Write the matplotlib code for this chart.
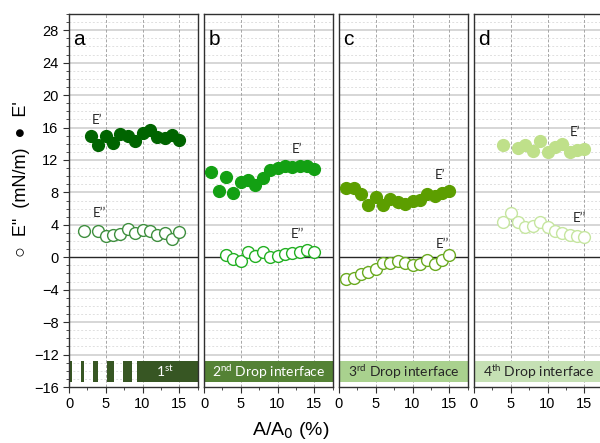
import numpy as np
import matplotlib.pyplot as plt
from matplotlib.ticker import MultipleLocator

# данные: (x, E') и (x, E'') для четырёх капель
xa_s = [3, 4, 5, 6, 7, 8, 9, 10, 11, 12, 13, 14, 15]
ea_s = [15.0, 13.9, 15.0, 14.1, 15.2, 14.9, 14.3, 15.3, 15.7, 14.8, 14.7, 15.1, 14.5]
xa_l = [2, 4, 5, 6, 7, 8, 9, 10, 11, 12, 13, 14, 15]
ea_l = [3.2, 3.3, 2.6, 2.7, 2.9, 3.5, 3.0, 3.4, 3.3, 2.8, 3.0, 2.3, 3.1]

xb_s = [1, 2, 3, 4, 5, 6, 7, 8, 9, 10, 11, 12, 13, 14, 15]
eb_s = [10.5, 8.2, 9.9, 7.9, 9.3, 9.5, 8.9, 9.8, 10.7, 11.0, 11.3, 11.1, 11.3, 11.2, 10.9]
xb_l = [3, 4, 5, 6, 7, 8, 9, 10, 11, 12, 13, 14, 15]
eb_l = [0.3, -0.2, -0.4, 0.7, 0.1, 0.7, 0.0, 0.2, 0.4, 0.5, 0.7, 0.9, 0.7]

xc_s = [1, 2, 3, 4, 5, 6, 7, 8, 9, 10, 11, 12, 13, 14, 15]
ec_s = [8.6, 8.5, 7.8, 6.5, 7.4, 6.5, 7.2, 6.8, 6.6, 7.0, 7.1, 7.8, 7.5, 7.9, 8.2]
xc_l = [1, 2, 3, 4, 5, 6, 7, 8, 9, 10, 11, 12, 13, 14, 15]
ec_l = [-2.7, -2.5, -2.1, -1.8, -1.5, -0.7, -0.7, -0.5, -0.7, -0.9, -0.8, -0.3, -0.8, -0.3, 0.3]

xd_s = [4, 6, 7, 8, 9, 10, 11, 12, 13, 14, 15]
ed_s = [13.9, 13.5, 13.9, 13.1, 14.3, 13.0, 13.6, 14.0, 13.0, 13.2, 13.4]
xd_l = [4, 5, 6, 7, 8, 9, 10, 11, 12, 13, 14, 15]
ed_l = [4.4, 5.4, 4.4, 3.7, 3.9, 4.3, 3.7, 3.2, 3.0, 2.8, 2.6, 2.5]

letters = ['a', 'b', 'c', 'd']
band_text = [r'1$\mathregular{^{st}}$',
             r'2$\mathregular{^{nd}}$ Drop interface',
             r'3$\mathregular{^{rd}}$ Drop interface',
             r'4$\mathregular{^{th}}$ Drop interface']
band_colors = ['#375623', '#548235', '#a9d18e', '#c5e0b4']
band_text_colors = ['white', 'white', '#262626', '#262626']
solid_colors = ['#006400', '#13a013', '#5c9e00', '#bfe08a']
open_colors = ['#3f8f3f', '#22b022', '#6aaa20', '#c6e6a0']
# полоски "затухания" в первой панели
fade_start = [0.1, 1.6, 3.2, 5.2, 7.4, 9.2]
fade_end = [0.35, 2.1, 4.0, 6.1, 8.5, 17.5]
# позиции подписей E' и E''
lab_s = [(3.8, 16.9), (12.7, 13.4), (13.8, 10.2), (13.7, 15.4)]
lab_l = [(4.2, 5.4), (12.7, 2.9), (14.0, 1.6), (14.4, 4.8)]

series = [(xa_s, ea_s, xa_l, ea_l), (xb_s, eb_s, xb_l, eb_l),
          (xc_s, ec_s, xc_l, ec_l), (xd_s, ed_s, xd_l, ed_l)]

plt.rcParams['font.family'] = ['Liberation Sans', 'DejaVu Sans']

fig = plt.figure(figsize=(6, 4.43), dpi=100)
lefts = [0.115, 0.34, 0.565, 0.79]
width = 0.2145
bottom, height = 0.1264, 0.842

for i in range(4):
    ax = fig.add_axes([lefts[i], bottom, width, height])
    xs, ys, xl, yl = series[i]
    ax.set_xlim(0, 17.5)
    ax.set_ylim(-16, 30)

    # сетка
    for y in np.arange(-15, 30, 1):
        if y % 4 != 0:
            ax.axhline(y, color='#e0e0e0', lw=0.7, ls=(0, (2, 2)), zorder=0)
    for y in np.arange(-12, 30, 4):
        if y != 0:
            ax.axhline(y, color='#cfcfcf', lw=1.2, zorder=0)
    for x in [5, 10, 15]:
        ax.axvline(x, color='#a6a6a6', lw=0.7, ls=(0, (3, 2)), zorder=0)
    ax.axhline(0, color='#262626', lw=1.0, zorder=1)

    # полоса внизу
    if i == 0:
        for s, e in zip(fade_start, fade_end):
            ax.fill_between([s, e], -15.4, -12.8, color=band_colors[i], lw=0, zorder=2)
        ax.text(13.0, -14.1, band_text[i], color=band_text_colors[i],
                ha='center', va='center', fontsize=10, family='Lato', zorder=3)
    else:
        ax.fill_between([0, 17.5], -15.4, -12.8, color=band_colors[i], lw=0, zorder=2)
        ax.text(8.75, -14.1, band_text[i], color=band_text_colors[i],
                ha='center', va='center', fontsize=10, family='Lato', zorder=3)

    ax.plot(xs, ys, 'o', color=solid_colors[i], ms=8.5, mec=solid_colors[i], zorder=4)
    ax.plot(xl, yl, 'o', mfc='white', mec=open_colors[i], mew=1.0, ms=8.5, zorder=4)

    ax.text(lab_s[i][0], lab_s[i][1], 'E\u2019', fontsize=9.5, family='Lato',
            ha='center', va='center', color='#262626')
    ax.text(lab_l[i][0], lab_l[i][1], 'E\u2019\u2019', fontsize=9.5, family='Lato',
            ha='center', va='center', color='#262626')
    ax.text(0.6, 26.8, letters[i], fontsize=15, ha='left', va='center', color='black')

    ax.xaxis.set_major_locator(MultipleLocator(5))
    ax.xaxis.set_minor_locator(MultipleLocator(2.5))
    ax.tick_params(axis='x', which='major', direction='out', length=4, labelsize=10.5,
                   color='#303030')
    ax.tick_params(axis='x', which='minor', direction='out', length=2.5, color='#303030')
    for sp in ax.spines.values():
        sp.set_color('#303030')
        sp.set_linewidth(1.0)

    if i == 0:
        ax.yaxis.set_minor_locator(MultipleLocator(1))
        ax.set_yticks(np.arange(-16, 29, 4))
        ax.tick_params(axis='y', which='major', direction='out', length=4, labelsize=10.5,
                       color='#303030')
        ax.tick_params(axis='y', which='minor', direction='out', length=2.5, color='#303030')
    else:
        ax.set_yticks([])
        ax.tick_params(axis='y', which='minor', left=False)

fig.text(0.035, 0.595, '\u25cb  E"  (mN/m)  \u25cf  E\'', rotation=90,
         ha='center', va='center', fontsize=13)
fig.text(0.485, 0.028, r'A/A$_0$ (%)', ha='center', va='center', fontsize=14)

plt.savefig('out.png', dpi=100)
